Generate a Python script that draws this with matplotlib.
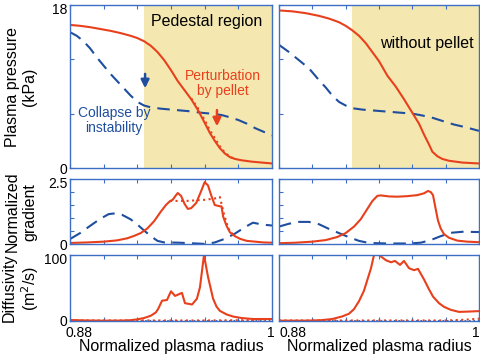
import matplotlib
matplotlib.use("Agg")
import matplotlib.pyplot as plt
import matplotlib.transforms as mtransforms

plt.rcParams['font.family'] = ['Liberation Sans', 'DejaVu Sans']

RED = '#e8401c'
BLUE = '#1f4e9e'
SPINE = '#3d6fc6'
SHADE = '#f4e8b0'

# ---------------- data ----------------
# Left column: with pellet
p_red_x = [0.880, 0.886, 0.892, 0.898, 0.904, 0.910, 0.916, 0.920, 0.924, 0.928, 0.932, 0.936,
           0.940, 0.944, 0.948, 0.952, 0.956, 0.960, 0.963, 0.966, 0.969, 0.972, 0.975, 0.978,
           0.982, 0.988, 0.994, 1.000]
p_red_y = [15.8, 15.7, 15.55, 15.35, 15.15, 14.9, 14.6, 14.35, 14.0, 13.5, 12.8, 11.9,
           10.8, 9.6, 8.6, 7.6, 6.4, 5.0, 3.9, 3.0, 2.2, 1.6, 1.2, 1.0,
           0.85, 0.7, 0.6, 0.5]
p_reddot_x = [0.952, 0.956, 0.960, 0.963, 0.966, 0.969, 0.972, 0.975, 0.978]
p_reddot_y = [7.7, 6.6, 5.3, 4.2, 3.3, 2.4, 1.7, 1.25, 1.0]
p_blue_x = [0.880, 0.884, 0.888, 0.892, 0.896, 0.900, 0.904, 0.908, 0.912, 0.916, 0.920, 0.924,
            0.928, 0.934, 0.940, 0.946, 0.952, 0.958, 0.964, 0.970, 0.975, 0.980, 0.985, 0.990,
            0.995, 1.000]
p_blue_y = [15.0, 14.6, 14.0, 13.2, 12.2, 11.3, 10.4, 9.6, 8.8, 8.0, 7.3, 6.9,
            6.7, 6.55, 6.45, 6.35, 6.25, 6.1, 6.0, 5.85, 5.6, 5.3, 4.9, 4.4,
            4.0, 3.6]

g_red_x = [0.880, 0.890, 0.900, 0.908, 0.914, 0.918, 0.922, 0.926, 0.930, 0.934, 0.937, 0.9394,
           0.941, 0.943, 0.944, 0.946, 0.948, 0.950, 0.952, 0.955, 0.958, 0.960, 0.962, 0.964,
           0.966, 0.969, 0.970, 0.971, 0.973, 0.975, 0.978, 0.981, 0.985, 0.990, 0.995, 1.000]
g_red_y = [0.04, 0.06, 0.09, 0.14, 0.22, 0.31, 0.42, 0.60, 0.88, 1.25, 1.50, 1.65,
           1.70, 1.88, 1.96, 1.85, 1.55, 1.35, 1.38, 1.58, 2.05, 2.38, 2.25, 1.85,
           1.50, 1.45, 1.45, 1.05, 0.70, 0.45, 0.30, 0.20, 0.12, 0.09, 0.06, 0.05]
g_reddot_x = [0.9394, 0.945, 0.950, 0.955, 0.960, 0.966, 0.969, 0.9715, 0.974, 0.977]
g_reddot_y = [1.65, 1.66, 1.66, 1.68, 1.70, 1.75, 1.81, 1.15, 0.60, 0.35]
g_blue_x = [0.880, 0.886, 0.892, 0.898, 0.903, 0.907, 0.911, 0.916, 0.920, 0.924, 0.928, 0.932,
            0.936, 0.945, 0.955, 0.961, 0.966, 0.972, 0.978, 0.984, 0.9887, 0.994, 1.000]
g_blue_y = [0.19, 0.42, 0.70, 0.97, 1.15, 1.18, 1.12, 0.95, 0.75, 0.52, 0.30, 0.12,
            0.06, 0.05, 0.02, 0.0, 0.06, 0.20, 0.40, 0.65, 0.82, 0.75, 0.71]

d_red_x = [0.880, 0.890, 0.900, 0.910, 0.916, 0.920, 0.924, 0.928, 0.931, 0.9323, 0.9347, 0.9376,
           0.940, 0.9424, 0.9465, 0.9483, 0.9525, 0.9554, 0.9572, 0.9596, 0.962, 0.965, 0.967,
           0.969, 0.973, 0.977, 0.982, 0.9887, 1.000]
d_red_y = [1.5, 0.8, 0.5, 0.6, 1.2, 2.5, 4.5, 8.0, 13.0, 18.0, 30.8, 31.8,
           45.0, 38.0, 42.6, 27.0, 25.0, 33.8, 51.0, 100.0, 66.7, 33.8, 22.0,
           15.4, 10.0, 6.7, 4.5, 3.0, 3.0]
d_reddot_x = [0.880, 0.960, 0.985, 1.000]
d_reddot_y = [0.8, 0.8, 1.2, 3.0]
d_blue_x = [0.880, 1.000]
d_blue_y = [0.2, 0.2]

# Right column: without pellet
q_red_x = [0.880, 0.888, 0.896, 0.904, 0.910, 0.916, 0.920, 0.924, 0.928, 0.932, 0.936, 0.940,
           0.945, 0.950, 0.955, 0.960, 0.964, 0.967, 0.970, 0.972, 0.975, 0.978, 0.982, 0.990,
           1.000]
q_red_y = [17.4, 17.3, 17.1, 16.8, 16.5, 16.1, 15.7, 15.2, 14.6, 13.8, 12.8, 11.8,
           10.2, 9.0, 7.6, 6.1, 4.9, 3.7, 2.6, 1.8, 1.3, 1.0, 0.8, 0.6,
           0.5]
q_blue_x = [0.880, 0.886, 0.892, 0.898, 0.904, 0.908, 0.912, 0.916, 0.920, 0.924, 0.930, 0.940,
            0.950, 0.960, 0.966, 0.972, 0.978, 0.985, 0.992, 1.000]
q_blue_y = [13.6, 12.8, 11.9, 11.0, 9.7, 8.9, 8.0, 7.3, 6.9, 6.6, 6.45, 6.3,
            6.15, 6.0, 5.8, 5.55, 5.2, 4.8, 4.5, 4.1]

h_red_x = [0.880, 0.890, 0.900, 0.908, 0.915, 0.920, 0.925, 0.929, 0.933, 0.936, 0.939, 0.941,
           0.946, 0.951, 0.957, 0.963, 0.967, 0.9694, 0.971, 0.9724, 0.974, 0.9754, 0.977, 0.979,
           0.982, 0.987, 0.993, 1.000]
h_red_y = [0.03, 0.05, 0.09, 0.15, 0.27, 0.42, 0.67, 0.95, 1.35, 1.65, 1.85, 1.87,
           1.83, 1.82, 1.84, 1.88, 1.95, 2.04, 2.00, 1.88, 1.35, 0.90, 0.60, 0.38,
           0.24, 0.13, 0.09, 0.07]
h_blue_x = [0.880, 0.886, 0.892, 0.898, 0.904, 0.910, 0.916, 0.922, 0.928, 0.934, 0.945, 0.958,
            0.965, 0.971, 0.977, 0.983, 0.990, 1.000]
h_blue_y = [0.67, 0.78, 0.85, 0.85, 0.76, 0.58, 0.42, 0.26, 0.12, 0.04, 0.02, 0.02,
            0.05, 0.15, 0.30, 0.43, 0.47, 0.46]

e_red_x = [0.880, 0.895, 0.905, 0.912, 0.918, 0.922, 0.925, 0.928, 0.931, 0.9352, 0.937, 0.940,
           0.9442, 0.9472, 0.9496, 0.9526, 0.955, 0.958, 0.961, 0.9634, 0.967, 0.970, 0.9724,
           0.976, 0.979, 0.983, 0.988, 0.994, 1.000]
e_red_y = [0.5, 0.5, 1.2, 3.0, 7.0, 11.0, 18.0, 30.0, 46.0, 80.0, 100.0, 100.0,
           92.0, 89.0, 91.0, 85.0, 91.0, 80.0, 77.0, 79.0, 63.0, 48.0, 37.0,
           27.0, 21.5, 17.0, 13.8, 14.3, 15.0]
e_reddot_x = [0.880, 0.980, 0.992, 1.000]
e_reddot_y = [0.8, 0.8, 2.0, 3.5]
e_blue_x = [0.880, 1.000]
e_blue_y = [0.2, 0.2]

xticks = [0.88, 0.90, 0.92, 0.94, 0.96, 0.98, 1.00]
xticklabels = ['0.88', '', '', '', '', '', '1']
ped_start = 0.924

# ---------------- figure ----------------
fig = plt.figure(figsize=(4.8, 3.56), dpi=100)

L0, W = 70 / 480, 202 / 480
R0, WR = 279 / 480, 200 / 480
rows = [((356 - 168) / 356, 163 / 356),
        ((356 - 244) / 356, 65 / 356),
        ((356 - 321) / 356, 66 / 356)]

axes = {}
for r, (b, h) in enumerate(rows):
    axes[(r, 0)] = fig.add_axes([L0, b, W, h])
    axes[(r, 1)] = fig.add_axes([R0, b, WR, h])

ylims = [(0, 18), (0, 2.5), (0, 100)]
yticks = [[0, 6, 12, 18], [0, 0.5, 1, 1.5, 2, 2.5], [0, 100]]
yticklabels = [['0', '', '', '18'], ['0', '', '', '', '', '2.5'], ['0', '100']]

px = 1 / 100.0
for (r, c), ax in axes.items():
    ax.set_xlim(0.88, 1.0)
    ax.set_ylim(*ylims[r])
    for s in ax.spines.values():
        s.set_color(SPINE)
        s.set_linewidth(1.0)
    ax.set_xticks(xticks)
    ax.set_yticks(yticks[r])
    ax.tick_params(direction='in', length=3, color=SPINE, width=0.8,
                   top=True, bottom=True, left=True, right=False,
                   labelsize=10, pad=2)
    ax.tick_params(axis='x', pad=3.5)
    if r == 2:
        ax.set_xticklabels(xticklabels)
        labs = ax.get_xticklabels()
        labs[0].set_horizontalalignment('left')
        labs[0].set_transform(labs[0].get_transform() +
                              mtransforms.ScaledTranslation(-4 * px if c == 0 else 0, 0,
                                                            fig.dpi_scale_trans))
        labs[-1].set_horizontalalignment('right')
        labs[-1].set_transform(labs[-1].get_transform() +
                               mtransforms.ScaledTranslation(3 * px if c == 0 else 1 * px, 0,
                                                             fig.dpi_scale_trans))
    else:
        ax.set_xticklabels([])
    if c == 0:
        ax.set_yticklabels(yticklabels[r])
        labs = ax.get_yticklabels()
        labs[-1].set_transform(labs[-1].get_transform() +
                               mtransforms.ScaledTranslation(0, -3 * px, fig.dpi_scale_trans))
    else:
        ax.set_yticklabels([])
    if r == 0:
        ax.axvspan(ped_start, 1.0, color=SHADE, lw=0, zorder=0)

lw = 1.5
dash = (0, (6, 3.5))
# top left
ax = axes[(0, 0)]
ax.plot(p_blue_x, p_blue_y, color=BLUE, lw=lw, linestyle=dash)
ax.plot(p_reddot_x, p_reddot_y, color=RED, lw=1.5, linestyle=':')
ax.plot(p_red_x, p_red_y, color=RED, lw=lw)
ax.text(0.961, 16.2, 'Pedestal region', fontsize=11.5, ha='center', va='center')
ax.text(0.971, 9.3, 'Perturbation\nby pellet', fontsize=10, color=RED,
        ha='center', va='center', linespacing=1.1)
ax.text(0.906, 5.2, 'Collapse by\ninstability', fontsize=10, color=BLUE,
        ha='center', va='center', linespacing=1.1)
ax.annotate('', xy=(0.9246, 8.5), xytext=(0.9246, 10.7),
            arrowprops=dict(arrowstyle='-|>', color=BLUE, lw=1.8, mutation_scale=12))
ax.annotate('', xy=(0.9673, 4.3), xytext=(0.9673, 6.7),
            arrowprops=dict(arrowstyle='-|>', color=RED, lw=1.8, mutation_scale=12))

# top right
ax = axes[(0, 1)]
ax.plot(q_blue_x, q_blue_y, color=BLUE, lw=lw, linestyle=dash)
ax.plot(q_red_x, q_red_y, color=RED, lw=lw)
ax.text(0.969, 13.7, 'without pellet', fontsize=11.5, ha='center', va='center')

# middle
ax = axes[(1, 0)]
ax.plot(g_blue_x, g_blue_y, color=BLUE, lw=lw, linestyle=dash)
ax.plot(g_reddot_x, g_reddot_y, color=RED, lw=1.5, linestyle=':')
ax.plot(g_red_x, g_red_y, color=RED, lw=lw)
ax = axes[(1, 1)]
ax.plot(h_blue_x, h_blue_y, color=BLUE, lw=lw, linestyle=dash)
ax.plot(h_red_x, h_red_y, color=RED, lw=lw)

# bottom
ax = axes[(2, 0)]
ax.plot(d_blue_x, d_blue_y, color=BLUE, lw=1.2, linestyle=':')
ax.plot(d_reddot_x, d_reddot_y, color=RED, lw=1.5, linestyle=':')
ax.plot(d_red_x, d_red_y, color=RED, lw=lw)
ax = axes[(2, 1)]
ax.plot(e_blue_x, e_blue_y, color=BLUE, lw=1.2, linestyle=':')
ax.plot(e_reddot_x, e_reddot_y, color=RED, lw=1.5, linestyle=':')
ax.plot(e_red_x, e_red_y, color=RED, lw=lw)

# x labels (placed in figure pixels to match reference)
for xc in [(70 + 272) / 2, (279 + 479) / 2]:
    fig.text(xc / 480, 1 - 346 / 356, 'Normalized plasma radius', fontsize=11.5,
             ha='center', va='center')

# y labels
for (txt, yc) in [('Plasma pressure\n(kPa)', 87), ('Normalized\ngradient', 212),
                  ('Diffusivity\n(m$^2$/s)', 288)]:
    fig.text(21 / 480, 1 - yc / 356, txt, rotation=90, fontsize=11.5,
             ha='center', va='center', linespacing=1.15)

fig.savefig('out.png', dpi=100)
